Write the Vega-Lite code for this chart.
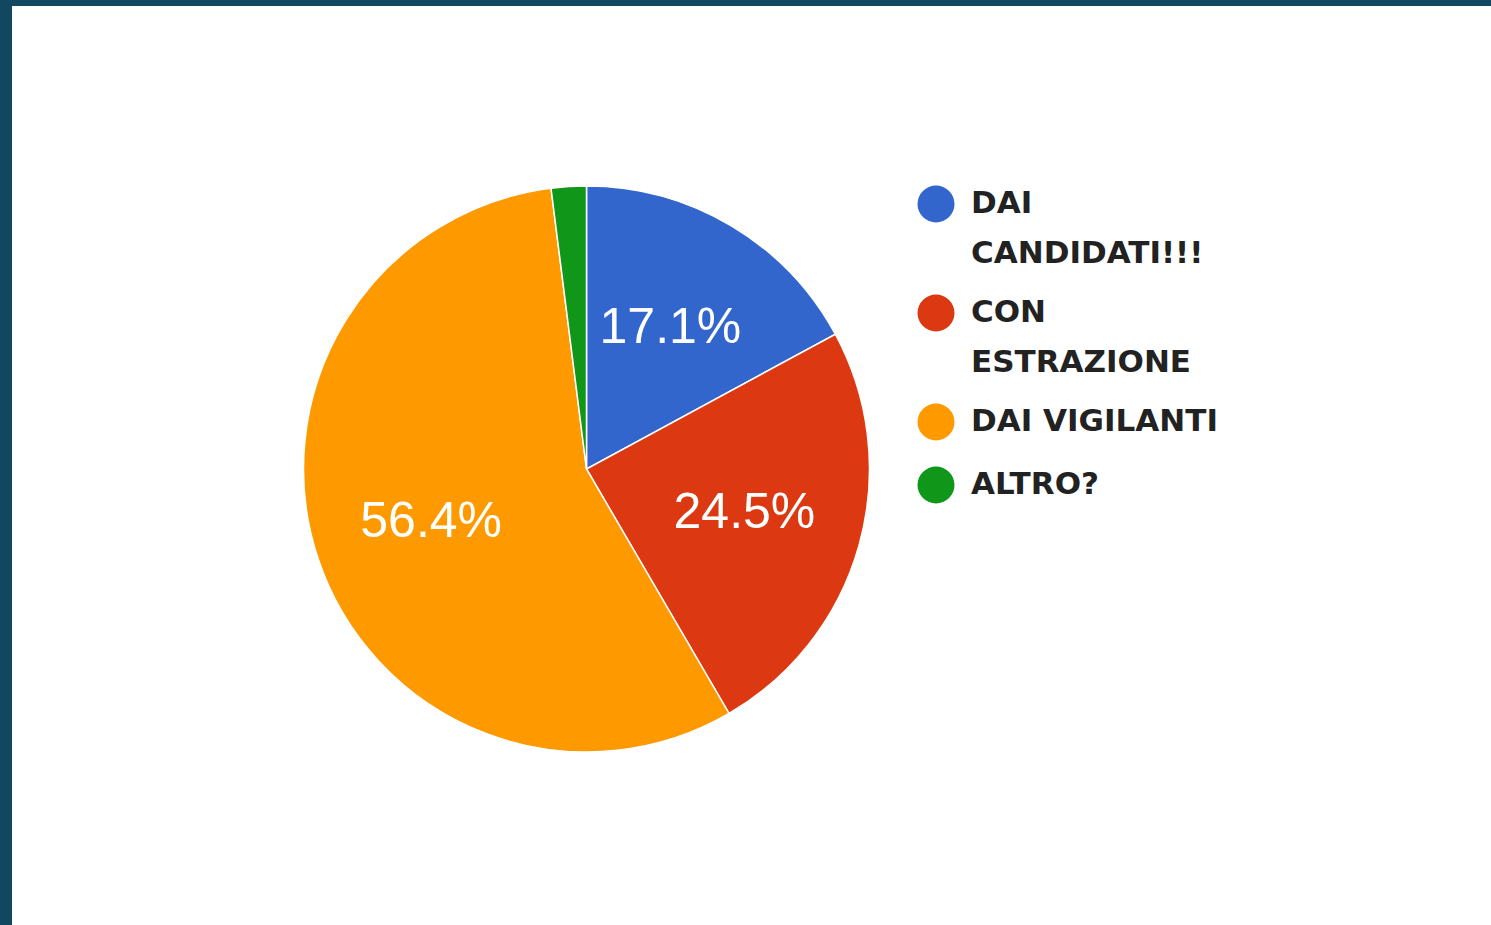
{
  "$schema": "https://vega.github.io/schema/vega-lite/v6.json",
  "width": 1479,
  "height": 919,
  "autosize": {"type": "none"},
  "padding": {"left": 12, "top": 6, "right": 0, "bottom": 0},
  "background": "#124760",
  "view": {"fill": "#ffffff", "stroke": null},
  "config": {
    "style": {"guide-label": {"lineHeight": 50}}
  },
  "data": {
    "values": [
      {"category": "DAI CANDIDATI!!!", "value": 17.1, "label": "17.1%", "order": 1},
      {"category": "CON ESTRAZIONE", "value": 24.5, "label": "24.5%", "order": 2},
      {"category": "DAI VIGILANTI", "value": 56.4, "label": "56.4%", "order": 3},
      {"category": "ALTRO?", "value": 2.0, "label": "", "order": 4}
    ]
  },
  "encoding": {
    "theta": {"field": "value", "type": "quantitative", "stack": true},
    "order": {"field": "order", "type": "quantitative"}
  },
  "layer": [
    {
      "mark": {"type": "arc", "x": 574.5, "y": 463, "outerRadius": 283, "stroke": "white", "strokeWidth": 1.5},
      "encoding": {
        "color": {
          "field": "category",
          "type": "nominal",
          "scale": {
            "domain": ["DAI CANDIDATI!!!", "CON ESTRAZIONE", "DAI VIGILANTI", "ALTRO?"],
            "range": ["#3366cc", "#dc3912", "#ff9900", "#109618"]
          },
          "legend": {
            "orient": "none",
            "legendX": 905,
            "legendY": 179,
            "title": null,
            "padding": 0,
            "symbolType": "circle",
            "symbolSize": 1370,
            "symbolStrokeWidth": 0,
            "symbolOpacity": 1,
            "labelFont": "DejaVu Sans",
            "labelFontWeight": "bold",
            "labelFontSize": 31,
            "labelColor": "#222222",
            "labelLimit": 0,
            "labelOffset": 16,
            "rowPadding": 25,
            "labelExpr": "datum.label == 'DAI CANDIDATI!!!' ? ['DAI', 'CANDIDATI!!!'] : datum.label == 'CON ESTRAZIONE' ? ['CON', 'ESTRAZIONE'] : datum.label"
          }
        }
      }
    },
    {
      "mark": {"type": "text", "x": 574.5, "y": 463, "radius": 164, "font": "Liberation Sans", "fontSize": 50, "color": "white", "align": "center", "baseline": "middle"},
      "encoding": {
        "text": {"field": "label", "type": "nominal"}
      }
    }
  ]
}
